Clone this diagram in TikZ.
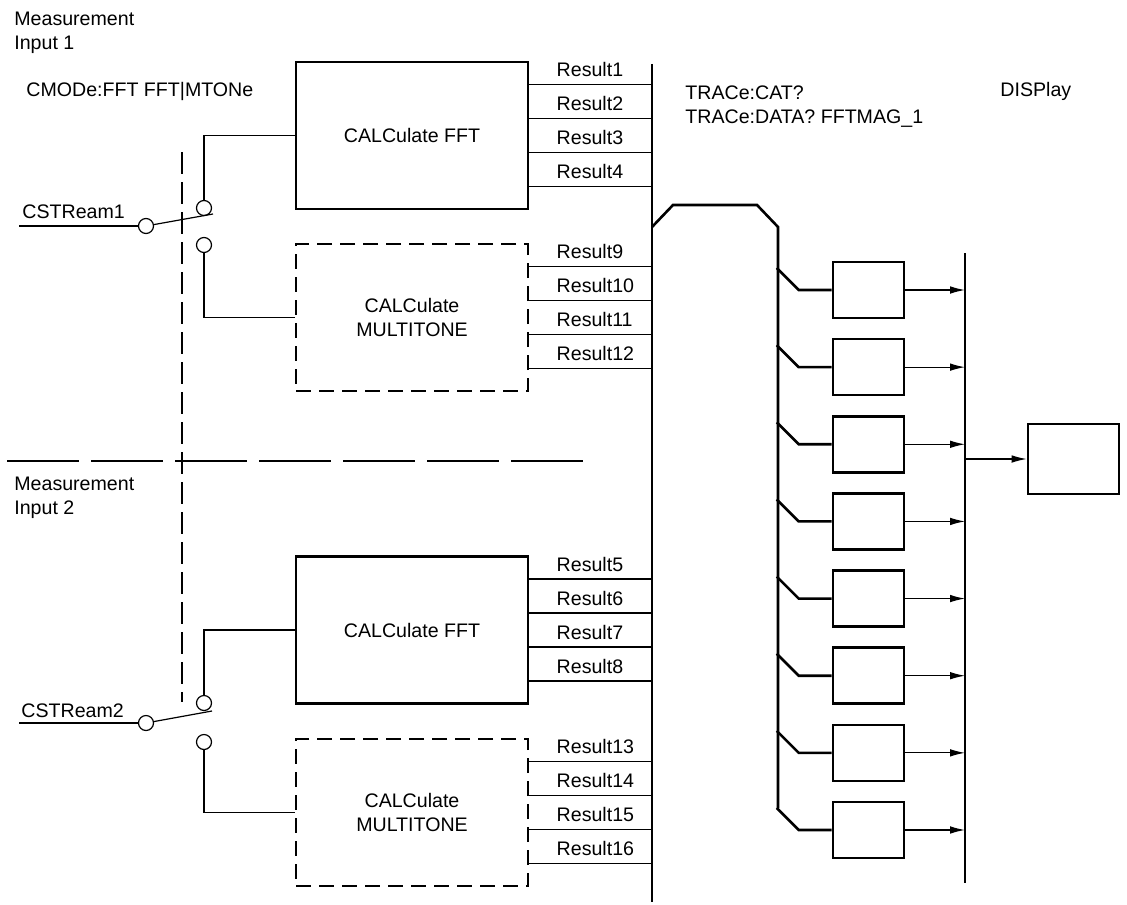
\documentclass[tikz,border=0pt]{standalone}
\usepackage{fontspec}
\setmainfont{Liberation Sans}
\usetikzlibrary{arrows.meta, calc}

\begin{document}
\begin{tikzpicture}[
    x=0.5pt, y=-0.5pt,
    font=\fontsize{9.8}{12}\selectfont,
    calcbox/.style={rectangle, draw, line width=1.3pt, minimum width=116pt, minimum height=73.5pt, align=center},
    mtbox/.style={calcbox, dash pattern=on 7.5pt off 4pt},
    tracebox/.style={rectangle, draw, line width=1.3pt, minimum width=35.5pt, minimum height=28pt},
    contact/.style={circle, draw, line width=0.6pt, minimum size=7.5pt, inner sep=0pt},
    wire/.style={line width=0.6pt},
    bus/.style={line width=1.3pt},
    arr/.style={-{Latex[length=7.5pt, width=3.8pt]}, line width=0.6pt},
    lbl/.style={anchor=base west, inner sep=0pt},
    headtxt/.style={anchor=north west, inner sep=0pt, align=left},
]
\useasboundingbox (0,0) rectangle (1127,904);

\node[headtxt] (meas1) at (14,12) {Measurement\\Input 1};
\node[headtxt] (meas2) at (14,477) {Measurement\\Input 2};
\node[lbl] (cmode) at (26,97) {CMODe:FFT FFT|MTONe};
\node[headtxt] (trace) at (685,85) {TRACe:CAT?\\TRACe:DATA? FFTMAG\_1};
\node[lbl] (display) at (1000,97) {DISPlay};

\node[calcbox] (fft1) at (412,135.5) {CALCulate FFT};
\node[mtbox] (mt1) at (412,317.5) {CALCulate\\MULTITONE};
\node[calcbox] (fft2) at (412,630) {CALCulate FFT};
\node[mtbox] (mt2) at (412,812.5) {CALCulate\\MULTITONE};

\node[lbl] (cs1) at (22,218) {CSTReam1};
\coordinate (in1) at (19,226);
\node[contact] (s1) at (146,226) {};
\node[contact] (a1) at (204,208) {};
\node[contact] (b1) at (204,245) {};
\coordinate (tip1) at (213,214);
\draw[wire] (in1) -- (s1);
\draw[wire] (s1) -- (tip1);
\draw[wire] (a1) |- (fft1);
\draw[wire] (b1) |- (mt1);

\node[lbl] (cs2) at (21,717) {CSTReam2};
\coordinate (in2) at (19,723);
\node[contact] (s2) at (146,723) {};
\node[contact] (a2) at (204,703) {};
\node[contact] (b2) at (204,742) {};
\coordinate (tip2) at (212,711);
\draw[wire] (in2) -- (s2);
\draw[wire] (s2) -- (tip2);
\draw[wire] (a2) |- (fft2);
\draw[wire] (b2) |- (mt2);

\draw[wire, dash pattern=on 11pt off 4pt] (182,152) -- (182,702);
\draw[wire, dash pattern=on 36pt off 6pt] (7,461) -- (583,461);

\coordinate (bus1top) at (652,64);
\coordinate (bus1bot) at (652,902);
\draw[bus] (bus1top) -- (bus1bot);

\foreach \b/\n in {fft1/1, mt1/9, fft2/5, mt2/13}
  \foreach \d [count=\i from 0] in {-51,-17,17,51} {
    \pgfmathtruncatemacro\r{\n+\i}
    \coordinate (p) at ($(\b.east)+(0,\d)$);
    \draw[wire] (p) -- (p -| bus1top);
    \node[lbl] at ($(p)+(27,-8)$) {Result\r};
  }

\coordinate (tap) at (652,227);
\draw[bus] (tap) -- ++(21,-22) -- ++(84,0) -- ++(21,22) -- (778,808);

\coordinate (bus2top) at (965,253);
\coordinate (bus2bot) at (965,883);
\draw[bus] (bus2top) -- (bus2bot);

\foreach \k in {1,...,8} {
  \node[tracebox] (tr\k) at (868.5,{290+77.14*(\k-1)}) {};
  \draw[bus] ($(tr\k.west)+(-55,-22)$) -- ++(22,22) -- (tr\k.west);
  \draw[arr] (tr\k) -- (tr\k -| bus2top);
}

\node[tracebox, minimum width=45.5pt, minimum height=35pt] (disp) at (1073.5,459) {};
\draw[arr] (bus2top |- disp) -- (disp);
\end{tikzpicture}
\end{document}
